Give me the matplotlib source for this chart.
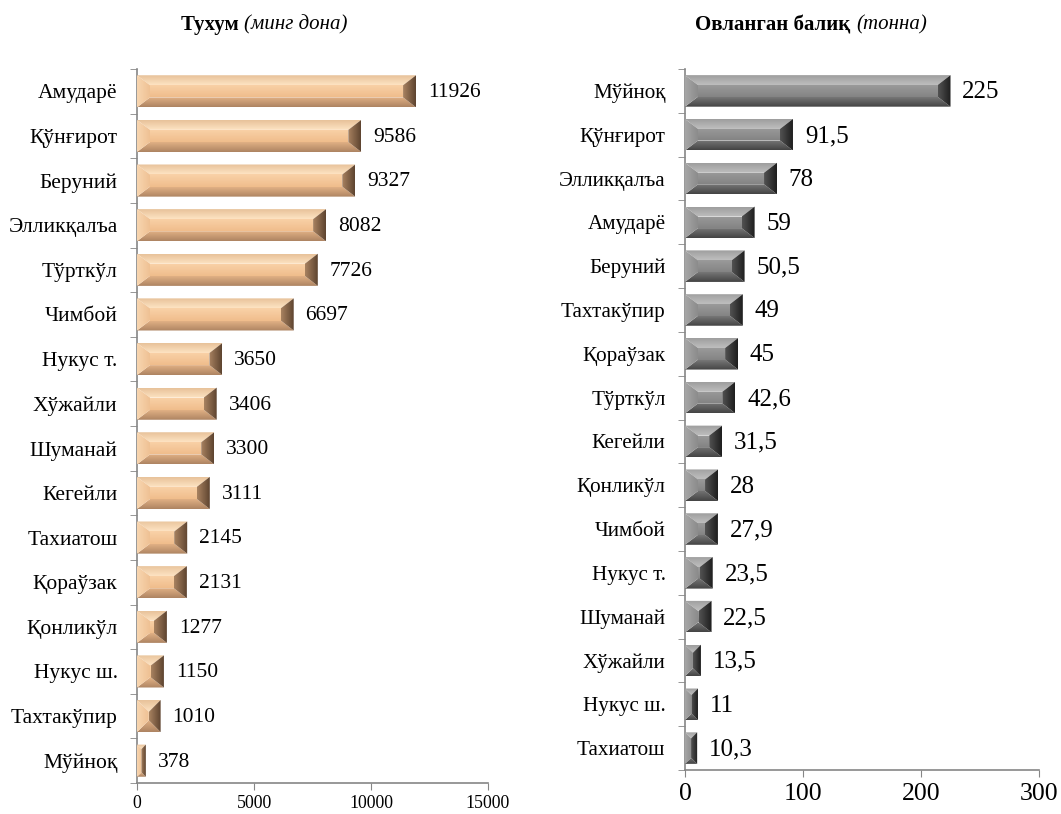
import numpy as np
import matplotlib
matplotlib.use('Agg')
import matplotlib.pyplot as plt
from matplotlib.patches import Polygon
from matplotlib.colors import LinearSegmentedColormap

plt.rcParams['font.family'] = ['Liberation Serif', 'DejaVu Serif']

# eggs (thousand pieces)
egg_regions = ['Амударё', 'Қўнғирот', 'Беруний', 'Элликқалъа', 'Тўрткўл', 'Чимбой',
               'Нукус т.', 'Хўжайли', 'Шуманай', 'Кегейли', 'Тахиатош', 'Қораўзак',
               'Қонликўл', 'Нукус ш.', 'Тахтакўпир', 'Мўйноқ']
egg_values = [11926, 9586, 9327, 8082, 7726, 6697, 3650, 3406, 3300, 3111, 2145, 2131,
              1277, 1150, 1010, 378]
egg_ticks = [0, 5000, 10000, 15000]

# fish caught (tonnes)
fish_regions = ['Мўйноқ', 'Қўнғирот', 'Элликқалъа', 'Амударё', 'Беруний', 'Тахтакўпир',
                'Қораўзак', 'Тўрткўл', 'Кегейли', 'Қонликўл', 'Чимбой', 'Нукус т.',
                'Шуманай', 'Хўжайли', 'Нукус ш.', 'Тахиатош']
fish_values = [225, 91.5, 78, 59, 50.5, 49, 45, 42.6, 31.5, 28, 27.9, 23.5, 22.5, 13.5, 11, 10.3]
fish_ticks = [0, 100, 200, 300]

# each face: (outer colour, inner colour)
peach = dict(top=('#E8C29A', '#FDE3C2'), bottom=('#AE8462', '#E0B084'),
             left=('#F8D6B0', '#EFC194'), right=('#5E4430', '#A88260'),
             center=('#F0BD8C', '#F9D2A8'))
grey = dict(top=('#9E9E9E', '#BEBEBE'), bottom=('#444444', '#767676'),
            left=('#A6A6A6', '#8C8C8C'), right=('#1E1E1E', '#525252'),
            center=('#848484', '#9A9A9A'))

W, H = 1061, 814
fig = plt.figure(figsize=(W / 100, H / 100), dpi=100)


def grad_poly(ax, pts, c_out, c_in, direction):
    # direction: 'up' (outer at bottom), 'down', 'left', 'right'
    poly = Polygon(pts, closed=True, fc='none', ec='none')
    ax.add_patch(poly)
    xs = [p[0] for p in pts]
    ys = [p[1] for p in pts]
    cmap = LinearSegmentedColormap.from_list('g', [c_out, c_in])
    g = np.linspace(0, 1, 32)
    if direction in ('up', 'down'):
        arr = g.reshape(-1, 1)
        origin = 'lower' if direction == 'up' else 'upper'
    else:
        arr = g.reshape(1, -1)
        arr = arr if direction == 'right' else arr[:, ::-1]
        origin = 'lower'
    im = ax.imshow(arr, extent=(min(xs), max(xs), min(ys), max(ys)), origin=origin,
                   aspect='auto', cmap=cmap, zorder=3, interpolation='bilinear')
    im.set_clip_path(poly)


def bevel_bars(ax, values, xmax, cols, h=0.72, bx_px=13, by_px=10):
    n = len(values)
    bb = ax.get_position()
    dx = xmax / (bb.width * W)      # data per pixel, x
    dy = n / (bb.height * H)        # data per pixel, y
    for i, v in enumerate(values):
        yc = n - 1 - i
        y0, y1 = yc - h / 2, yc + h / 2
        bx = min(bx_px * dx, v / 2)
        by = min(by_px * dy, h / 2)
        if bx < bx_px * dx:
            by = min(h / 2, by * (bx / (bx_px * dx)) * 1.3)
        xl, xr = bx, v - bx
        yb, yt = y0 + by, y1 - by
        if xr > xl and yt > yb:
            grad_poly(ax, [(xl, yb), (xr, yb), (xr, yt), (xl, yt)], *cols['center'], 'up')
        grad_poly(ax, [(0, y1), (v, y1), (xr, yt), (xl, yt)], *cols['top'], 'down')
        grad_poly(ax, [(0, y0), (v, y0), (xr, yb), (xl, yb)], *cols['bottom'], 'up')
        grad_poly(ax, [(0, y0), (0, y1), (xl, yt), (xl, yb)], *cols['left'], 'right')
        grad_poly(ax, [(v, y0), (v, y1), (xr, yt), (xr, yb)], *cols['right'], 'left')


def setup(ax, regions, values, ticks, cols, lab_fs, val_fs, xt_fs, fmt):
    n = len(regions)
    xmax = ticks[-1]
    bevel_bars(ax, values, xmax, cols)
    ax.set_xlim(0, xmax)
    ax.set_ylim(-0.5, n - 0.5)
    ax.set_yticks(np.arange(n))
    ax.set_yticklabels(regions[::-1], fontsize=lab_fs)
    ax.set_yticks(np.arange(n + 1) - 0.5, minor=True)
    ax.tick_params(axis='y', which='major', length=0, pad=14)
    ax.tick_params(axis='y', which='minor', length=5, color='#868686')
    ax.set_xticks(ticks)
    ax.set_xticklabels([str(t) for t in ticks], fontsize=xt_fs)
    ax.tick_params(axis='x', length=5, color='#868686', pad=4)
    for s in ['top', 'right']:
        ax.spines[s].set_visible(False)
    for s in ['left', 'bottom']:
        ax.spines[s].set_color('#868686')
        ax.spines[s].set_linewidth(1.2)
    for i, v in enumerate(values):
        ax.annotate(fmt(v), (v, n - 1 - i), xytext=(8.5, -1), textcoords='offset points',
                    va='center', ha='left', fontsize=val_fs, zorder=5)


ax1 = fig.add_axes([137 / W, 1 - 783 / H, (488 - 137) / W, (783 - 69) / H])
ax2 = fig.add_axes([685 / W, 1 - 770 / H, (1039 - 685) / W, (770 - 69) / H])

setup(ax1, egg_regions, egg_values, egg_ticks, peach, 15.5, 15.5, 12.8, lambda v: f'{v}')
setup(ax2, fish_regions, fish_values, fish_ticks, grey, 15.2, 18, 18.5,
      lambda v: f'{v:g}'.replace('.', ','))


def title(xc, bold, ital):
    y = 1 - 25 / H
    t1 = fig.text(0, y, bold, fontsize=15, fontweight='bold', va='center', ha='left')
    t2 = fig.text(0, y, ital, fontsize=15, fontstyle='italic', va='center', ha='left')
    fig.canvas.draw()
    r = fig.canvas.get_renderer()
    w1 = t1.get_window_extent(r).width / W
    w2 = t2.get_window_extent(r).width / W
    x0 = xc / W - (w1 + w2) / 2
    t1.set_x(x0)
    t2.set_x(x0 + w1)


title(264, 'Тухум ', '(минг дона)')
title(811, 'Овланган балиқ ', '(тонна)')

fig.savefig('out.png', dpi=100)
